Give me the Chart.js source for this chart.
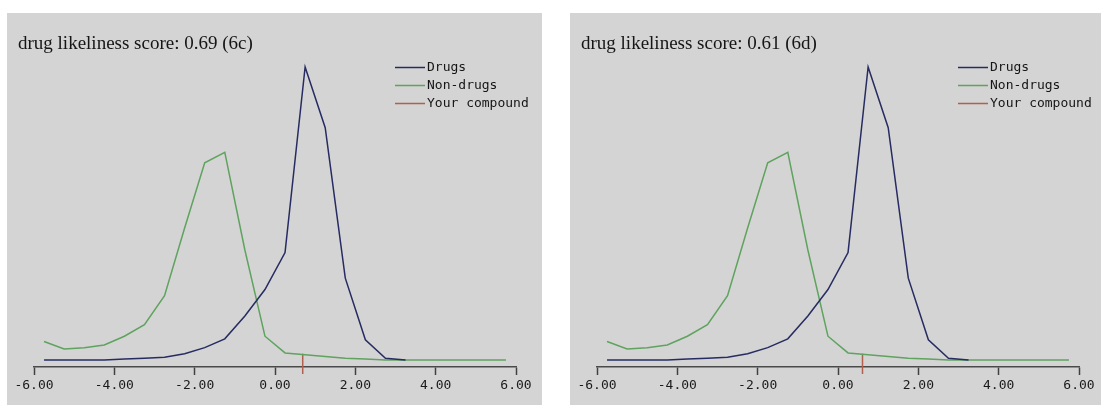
<!DOCTYPE html>
<html>
<head>
<meta charset="utf-8">
<title>Drug likeliness score distributions</title>
<script src="https://cdn.jsdelivr.net/npm/chart.js@4.4.1/dist/chart.umd.min.js"></script>
<style>
  html, body { margin: 0; padding: 0; background: #ffffff; }
  body { width: 1101px; height: 405px; position: relative; overflow: hidden; }
  .panel { position: absolute; top: 13px; height: 392px; background: #d4d4d4; }
  #p1 { left: 7px; width: 535px; }
  #p2 { left: 570px; width: 531px; }
</style>
</head>
<body>
<div class="panel" id="p1"><canvas id="c1" width="535" height="392"></canvas></div>
<div class="panel" id="p2"><canvas id="c2" width="531" height="392"></canvas></div>
<script>
// Score bin centres (bin width 0.5)
const binCenters = [-5.75, -5.25, -4.75, -4.25, -3.75, -3.25, -2.75, -2.25, -1.75, -1.25, -0.75, -0.25,
                    0.25, 0.75, 1.25, 1.75, 2.25, 2.75, 3.25, 3.75, 4.25, 4.75, 5.25, 5.75];

// Percentage of compounds per bin
const drugs    = [0, 0, 0, 0, 0.1, 0.2, 0.3, 0.7, 1.4, 2.4, 5.0, 8.0,
                  12.2, 33.3, 26.4, 9.3, 2.3, 0.2, 0, null, null, null, null, null];
const nonDrugs = [2.1, 1.25, 1.4, 1.7, 2.7, 4.0, 7.3, 15.0, 22.4, 23.6, 12.5, 2.7,
                  0.8, 0.6, 0.4, 0.2, 0.1, 0, 0, 0, 0, 0, 0, 0];

// x-axis tick values
const xTicks = [-6, -4, -2, 0, 2, 4, 6];

// Compound scores and panel captions
const compoundScores = [0.69, 0.61];
const panelTags = ['6c', '6d'];

const seriesNames = ['Drugs', 'Non-drugs', 'Your compound'];
const seriesColors = ['#262c62', '#5fa35f', '#b0604c'];

// Vertical extent of the compound marker, in y-axis units
const MARK_TOP = 0.7;
const MARK_BOTTOM = -1.6;

const decor = {
  id: 'decor',
  afterDraw(chart, args, opts) {
    const ctx = chart.ctx;
    ctx.save();
    // heading
    ctx.fillStyle = '#151515';
    ctx.font = '19px "Liberation Serif", "Times New Roman", serif';
    ctx.textBaseline = 'alphabetic';
    ctx.textAlign = 'left';
    ctx.fillText(opts.heading, 11, 36);
    // legend
    const rows = [54, 72, 90];
    ctx.font = '13px "DejaVu Sans Mono", monospace';
    ctx.textBaseline = 'middle';
    seriesNames.forEach((name, i) => {
      ctx.strokeStyle = seriesColors[i];
      ctx.lineWidth = 1.5;
      ctx.beginPath();
      ctx.moveTo(388, rows[i] + 0.5);
      ctx.lineTo(418, rows[i] + 0.5);
      ctx.stroke();
      ctx.fillStyle = '#151515';
      ctx.fillText(name, 420, rows[i] + 1);
    });
    ctx.restore();
  }
};

function pairs(xs, ys) {
  return xs.map((x, i) => ({ x: x, y: ys[i] }));
}

function makePanel(canvasId, score, tag, rightPad) {
  const ctx = document.getElementById(canvasId).getContext('2d');
  return new Chart(ctx, {
    type: 'line',
    data: {
      datasets: [
        {
          label: seriesNames[0],
          data: pairs(binCenters, drugs),
          borderColor: seriesColors[0],
          borderWidth: 1.5,
          pointRadius: 0,
          tension: 0,
          spanGaps: false,
          order: 0
        },
        {
          label: seriesNames[1],
          data: pairs(binCenters, nonDrugs),
          borderColor: seriesColors[1],
          borderWidth: 1.5,
          pointRadius: 0,
          tension: 0,
          order: 1
        },
        {
          label: seriesNames[2],
          data: [{ x: score, y: MARK_TOP }, { x: score, y: MARK_BOTTOM }],
          borderColor: seriesColors[2],
          borderWidth: 1.5,
          pointRadius: 0,
          clip: false,
          order: 2
        }
      ]
    },
    options: {
      responsive: false,
      animation: false,
      events: [],
      layout: { padding: { left: 27, right: rightPad, top: 39, bottom: 0 } },
      scales: {
        x: {
          type: 'linear',
          min: xTicks[0],
          max: xTicks[xTicks.length - 1],
          afterBuildTicks(scale) { scale.ticks = xTicks.map(v => ({ value: v })); },
          afterFit(scale) { scale.height = 38; },
          ticks: {
            callback: v => Number(v).toFixed(2),
            font: { family: '"DejaVu Sans Mono", monospace', size: 13 },
            color: '#1a1a1a',
            padding: 3,
            maxRotation: 0,
            autoSkip: false
          },
          grid: {
            display: true,
            drawOnChartArea: false,
            drawTicks: true,
            tickLength: 8,
            tickColor: '#404040',
            tickWidth: 1.5
          },
          border: { display: true, color: '#4a4a4a', width: 1.5 }
        },
        y: { display: false, min: -0.8, max: 35 }
      },
      plugins: {
        legend: { display: false },
        tooltip: { enabled: false },
        decor: { heading: 'drug likeliness score: ' + score.toFixed(2) + ' (' + tag + ')' }
      }
    },
    plugins: [decor]
  });
}

makePanel('c1', compoundScores[0], panelTags[0], 26);
makePanel('c2', compoundScores[1], panelTags[1], 22);
</script>
</body>
</html>
